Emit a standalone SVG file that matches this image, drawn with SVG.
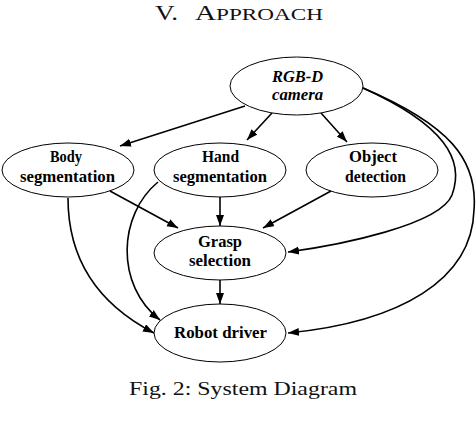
<svg xmlns="http://www.w3.org/2000/svg" width="476" height="428" viewBox="0 0 476 428">
<style>
.n ellipse{fill:#fff;stroke:#000;stroke-width:1}
.n text{font-family:"Liberation Serif","Times New Roman",serif;font-weight:bold;font-size:16px;text-anchor:middle;fill:#000}
.e path{fill:none;stroke:#000;stroke-width:1.6;marker-end:url(#ah)}
.cap{font-family:"Liberation Serif","Times New Roman",serif;fill:#111}
</style>
<defs>
<marker id="ah" markerUnits="userSpaceOnUse" markerWidth="12" markerHeight="9" refX="11" refY="4" orient="auto">
<path d="M0,0 L11,4 L0,8 z" fill="#000"/>
</marker>
</defs>
<rect width="476" height="428" fill="#fff"/>
<text class="cap" x="155" y="20" font-size="22" textLength="23" lengthAdjust="spacingAndGlyphs">V.</text>
<text class="cap" x="195" y="20" font-size="22" textLength="128" lengthAdjust="spacingAndGlyphs">A<tspan font-size="17.5">PPROACH</tspan></text>
<g class="e">
<path d="M245,106 L120,146"/>
<path d="M272,113 L247,140"/>
<path d="M321,113 L347,142"/>
<path d="M363,88 C445,125 465,160 452,195 C440,225 340,245 288,252"/>
<path d="M363,88 C450,125 478,160 474,210 C472,280 400,322 288,333"/>
<path d="M110,191 L178,228"/>
<path d="M220,197 L220,226"/>
<path d="M331,191 L263,228"/>
<path d="M220,280 L220,304"/>
<path d="M68,198 C68,262 100,305 154,333"/>
<path d="M158,182 C118,215 115,285 160,320"/>
</g>
<g id="camera" class="n"><ellipse cx="296.5" cy="86" rx="66.5" ry="29"/>
<text x="297.5" y="82" font-style="italic" textLength="51" lengthAdjust="spacingAndGlyphs">RGB-D</text>
<text x="297.5" y="100" font-style="italic" textLength="51" lengthAdjust="spacingAndGlyphs">camera</text></g>
<g id="body" class="n"><ellipse cx="68" cy="170" rx="66" ry="27"/>
<text x="66" y="162" textLength="32" lengthAdjust="spacingAndGlyphs">Body</text>
<text x="67.5" y="182" textLength="95" lengthAdjust="spacingAndGlyphs">segmentation</text></g>
<g id="hand" class="n"><ellipse cx="220" cy="170" rx="66" ry="27"/>
<text x="220.5" y="162" textLength="37" lengthAdjust="spacingAndGlyphs">Hand</text>
<text x="220" y="182" textLength="94" lengthAdjust="spacingAndGlyphs">segmentation</text></g>
<g id="object" class="n"><ellipse cx="372" cy="170" rx="66" ry="27"/>
<text x="373" y="162" textLength="48" lengthAdjust="spacingAndGlyphs">Object</text>
<text x="375.5" y="182" textLength="61" lengthAdjust="spacingAndGlyphs">detection</text></g>
<g id="grasp" class="n"><ellipse cx="220" cy="253" rx="66" ry="27"/>
<text x="220" y="247" textLength="44" lengthAdjust="spacingAndGlyphs">Grasp</text>
<text x="220" y="266" textLength="62" lengthAdjust="spacingAndGlyphs">selection</text></g>
<g id="robot" class="n"><ellipse cx="220" cy="333" rx="66" ry="29"/>
<text x="220.5" y="338" textLength="93" lengthAdjust="spacingAndGlyphs">Robot driver</text></g>
<text class="cap" x="129" y="395" font-size="19" textLength="228" lengthAdjust="spacingAndGlyphs">Fig. 2: System Diagram</text>
</svg>
